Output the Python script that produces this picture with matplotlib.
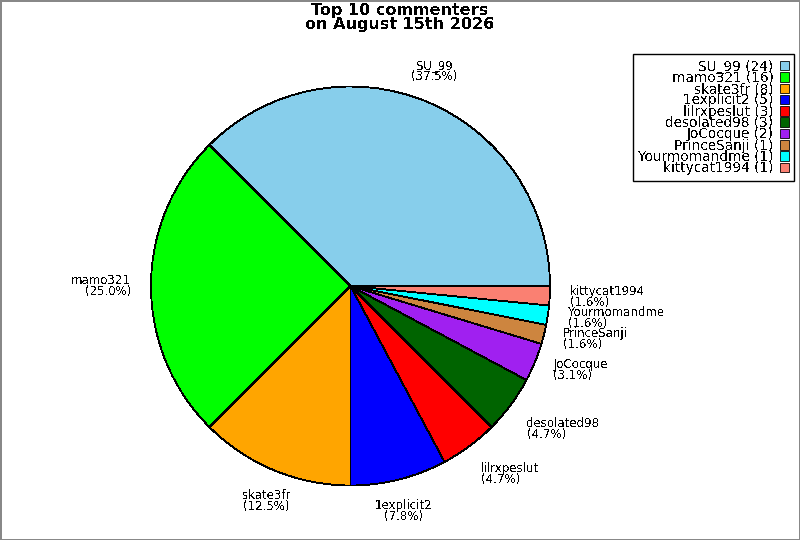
import numpy as np
import matplotlib

matplotlib.use('Agg')
import matplotlib.pyplot as plt

# data
names = ['SU_99', 'mamo321', 'skate3fr', '1explicit2', 'lilrxpeslut',
         'desolated98', 'JoCocque', 'PrinceSanji', 'Yourmomandme', 'kittycat1994']
counts = [24, 16, 8, 5, 3, 3, 2, 1, 1, 1]
colors = ['#87CEEB', '#00FF00', '#FFA500', '#0000FF', '#FF0000',
          '#006400', '#A020F0', '#CD853F', '#00FFFF', '#FA8072']
title = 'Top 10 commenters\non August 15th 2026'

plt.rcParams['font.family'] = 'DejaVu Sans'
plt.rcParams['text.antialiased'] = False

W, H = 800, 540
fig = plt.figure(figsize=(W / 100, H / 100), dpi=100)
fig.patch.set_facecolor('white')
fig.patch.set_edgecolor('#888888')
fig.patch.set_linewidth(2)

# pie centre / radius in pixels
cx, cy, r = 350.5, 286, 199.5
ax = fig.add_axes([(cx - r) / W, (H - cy - r) / H, 2 * r / W, 2 * r / H])

total = sum(counts)
labels = ['%s\n(%.1f%%)' % (n, 100.0 * c / total) for n, c in zip(names, counts)]

wedges, texts = ax.pie(counts, labels=labels, colors=colors, startangle=0,
                       counterclock=True, labeldistance=1.1,
                       wedgeprops=dict(edgecolor='black', linewidth=0.6,
                                       antialiased=False),
                       textprops=dict(fontsize=8.5, linespacing=0.8))
ax.set_xlim(-1, 1)
ax.set_ylim(-1, 1)
ax.set_aspect('equal')
ax.axis('off')

# label alignment: centred near top/bottom, left/right at the sides
for t, w in zip(texts, wedges):
    ang = np.deg2rad((w.theta1 + w.theta2) / 2)
    c, s = np.cos(ang), np.sin(ang)
    if abs(c) < 0.5:
        ha = 'center'
    else:
        ha = 'left' if c > 0 else 'right'
    if s > 0.5:
        va = 'bottom'
    elif s < -0.5:
        va = 'top'
    else:
        va = 'center'
    t.set_ha(ha)
    t.set_va(va)

leg_labels = ['%s (%d)' % (n, c) for n, c in zip(names, counts)]
leg = fig.legend(wedges, leg_labels, loc='upper right',
                 bbox_to_anchor=(794 / W, 1 - 54 / H), borderaxespad=0,
                 markerfirst=False, fontsize=9.8, labelspacing=-0.2,
                 handlelength=0.6, handleheight=0.7, handletextpad=0.5,
                 borderpad=0.4, fancybox=False, framealpha=1, edgecolor='black')
leg.get_frame().set_linewidth(1)

fig.text(0.5, 1 - 3 / H, title, ha='center', va='top', fontsize=11.5,
         fontweight='bold', linespacing=0.9)

fig.savefig('out.png', dpi=100)
